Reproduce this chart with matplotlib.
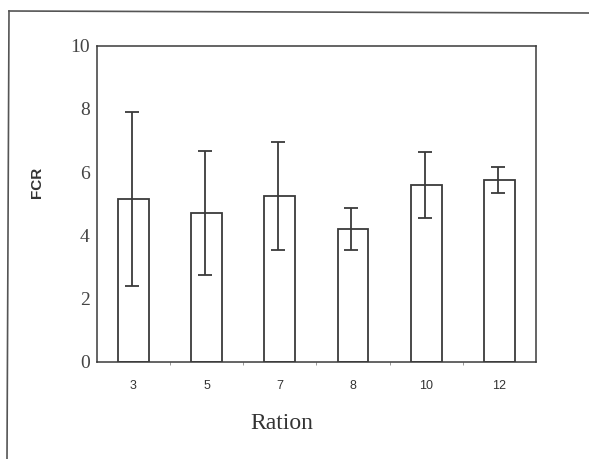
import numpy as np
from matplotlib import pyplot as plt
from matplotlib.lines import Line2D

# data
rations = ["3", "5", "7", "8", "10", "12"]
fcr_mean = [5.15, 4.70, 5.24, 4.21, 5.59, 5.75]
fcr_err = [2.75, 1.96, 1.72, 0.66, 1.05, 0.41]
y_ticks = [0, 2, 4, 6, 8, 10]

W, H = 589, 459
fig = plt.figure(figsize=(W / 100, H / 100), dpi=100)
ax = fig.add_axes([96.7 / W, 1 - 361.7 / H, (536 - 96.7) / W, (361.7 - 45.7) / H])

x = np.arange(len(rations))
ink = "#3a3a3a"
ax.bar(x, fcr_mean, width=0.42, color="white", edgecolor=ink, linewidth=1.3)
ax.errorbar(x - 0.02, fcr_mean, yerr=fcr_err, fmt="none", ecolor=ink,
            elinewidth=1.3, capsize=4.8, capthick=1.3)

ax.set_xlim(-0.5, 5.5)
ax.set_ylim(0, 10)
for s in ax.spines.values():
    s.set_color(ink)
    s.set_linewidth(1.1)

# y axis: serif numbers, no tick marks
ax.set_yticks(y_ticks)
ax.set_yticklabels([str(v) for v in y_ticks], family="Liberation Serif",
                   fontsize=14, color="#444444")
ax.tick_params(axis="y", length=0, pad=5)

# x axis: small sans labels, tiny marks between the bars
ax.set_xticks(x)
ax.set_xticklabels(rations, family="Liberation Sans", fontsize=9, color="#333333")
ax.tick_params(axis="x", which="major", length=0, pad=13)
ax.set_xticks(x[:-1] + 0.5, minor=True)
ax.tick_params(axis="x", which="minor", length=2, color="#888888", direction="out")

ax.set_xlabel("Ration", family="Liberation Serif", fontsize=17, color="#333333")
ax.xaxis.set_label_coords((282 - 96.7) / 439.3, (361.7 - 429) / 316)
ax.xaxis.label.set_va("baseline")

ax.set_ylabel("FCR", family="Liberation Sans", fontsize=11, fontweight="bold",
              color="#333333")
ax.yaxis.set_label_coords((36.7 - 96.7) / 439.3, (361.7 - 182.5) / 316)
ax.yaxis.label.set(va="center", ha="center", rotation_mode="default")

# outer frame of the scanned figure (top and left edges only)
fig.add_artist(Line2D([9 / W, 1.0], [1 - 11 / H, 1 - 13 / H],
                      transform=fig.transFigure, color="#555555", linewidth=1.2))
fig.add_artist(Line2D([9 / W, 7 / W], [1 - 11 / H, 0.0],
                      transform=fig.transFigure, color="#555555", linewidth=1.2))

fig.savefig("out.png", dpi=100)
